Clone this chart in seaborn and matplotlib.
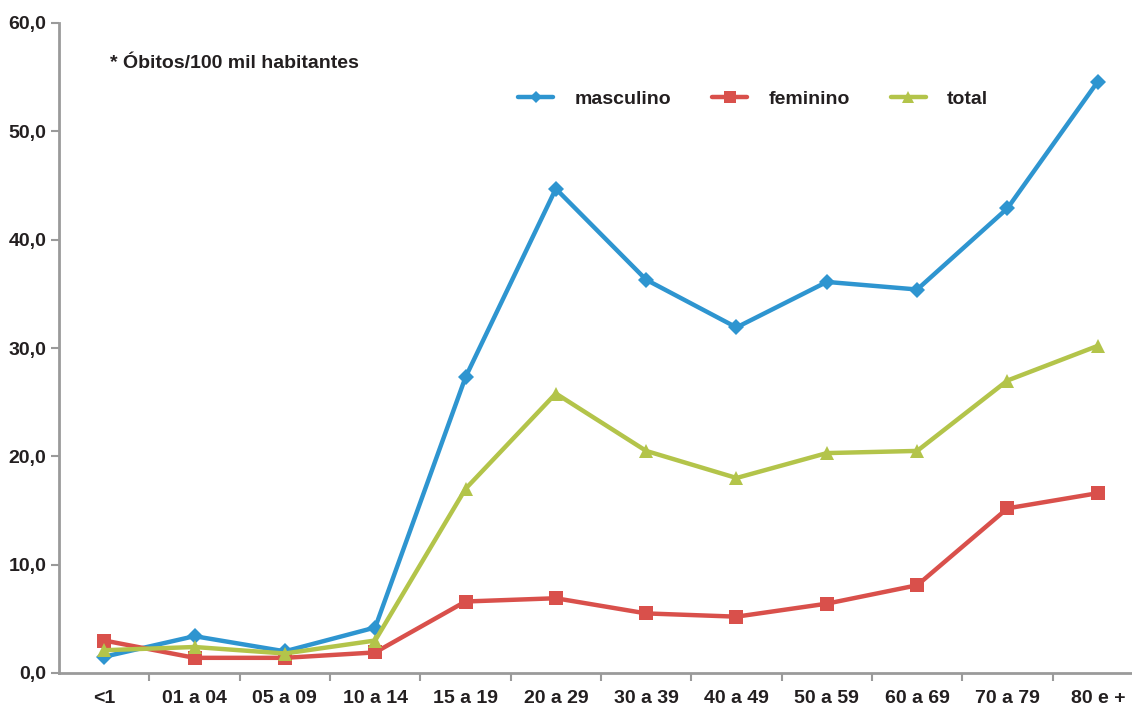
import matplotlib
matplotlib.use("Agg")
import matplotlib.pyplot as plt
import seaborn as sns
import pandas as pd
import numpy as np
from matplotlib.ticker import FixedLocator, FuncFormatter

categorias = ["<1", "01 a 04", "05 a 09", "10 a 14", "15 a 19", "20 a 29",
              "30 a 39", "40 a 49", "50 a 59", "60 a 69", "70 a 79", "80 e +"]
masculino = [1.5, 3.4, 2.0, 4.2, 27.3, 44.7, 36.3, 31.9, 36.1, 35.4, 42.9, 54.6]
feminino = [3.0, 1.4, 1.4, 1.9, 6.6, 6.9, 5.5, 5.2, 6.4, 8.1, 15.2, 16.6]
total = [2.1, 2.4, 1.8, 3.0, 17.0, 25.8, 20.5, 18.0, 20.3, 20.5, 27.0, 30.2]
y_ticks = [0, 10, 20, 30, 40, 50, 60]

sns.set_style("ticks")
plt.rcParams['font.family'] = ['Liberation Sans', 'DejaVu Sans']
plt.rcParams['font.weight'] = 'bold'

fig = plt.figure(figsize=(11.32, 7.05), dpi=100)
ax = fig.add_axes([59/1132, 1 - 673/705, (1143 - 59)/1132, (673 - 23)/705])

x = np.arange(len(categorias))
df = pd.DataFrame({
    "x": np.tile(x, 3),
    "valor": masculino + feminino + total,
    "serie": ["masculino"] * 12 + ["feminino"] * 12 + ["total"] * 12,
})
palette = {"masculino": "#2E95D0", "feminino": "#D9504B", "total": "#B3C44A"}
markers = {"masculino": "D", "feminino": "s", "total": "^"}
sizes = {"masculino": 8, "feminino": 10, "total": 10}

for s in ["masculino", "feminino", "total"]:
    sub = df[df.serie == s]
    sns.lineplot(data=sub, x="x", y="valor", ax=ax, color=palette[s],
                 marker=markers[s], markersize=sizes[s], markeredgewidth=0,
                 linewidth=3.2, label=s)

ax.set_xlim(-0.5, 11.5)
ax.set_ylim(0, 60)
ax.set_xlabel("")
ax.set_ylabel("")

ax.xaxis.set_major_locator(FixedLocator(x))
ax.set_xticklabels(categorias)
ax.xaxis.set_minor_locator(FixedLocator(np.arange(0.5, 11.5, 1.0)))
ax.tick_params(axis="x", which="major", length=0, pad=12, labelsize=14)
ax.tick_params(axis="x", which="minor", length=6, width=1.5, color="#9a9a9a")
ax.yaxis.set_major_locator(FixedLocator(y_ticks))
ax.yaxis.set_major_formatter(FuncFormatter(lambda v, p: f"{v:.1f}".replace(".", ",")))
ax.tick_params(axis="y", length=6, width=1.5, color="#9a9a9a", labelsize=14, pad=3)
for lab in ax.get_xticklabels() + ax.get_yticklabels():
    lab.set_fontweight("bold")
    lab.set_color("#231f20")

sns.despine(ax=ax)
for sp in ["left", "bottom"]:
    ax.spines[sp].set_color("#9a9a9a")
    ax.spines[sp].set_linewidth(2)

fig.text(110/1132, 1 - 63/705, "* Óbitos/100 mil habitantes", fontsize=14,
         fontweight="bold", color="#231f20", va="center", ha="left")

leg = ax.legend(loc="center", bbox_to_anchor=((754 - 59)/1085, (673 - 99)/650),
                ncol=3, frameon=False, fontsize=14, handlelength=1.8,
                columnspacing=2.1, handletextpad=1.1, markerscale=0.8)
for t in leg.get_texts():
    t.set_fontweight("bold")
    t.set_color("#231f20")

fig.savefig("out.png", dpi=100)
